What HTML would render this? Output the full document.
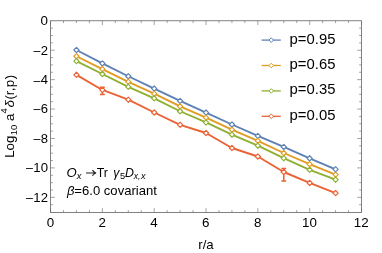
<!DOCTYPE html><html><head><meta charset="utf-8"><style>html,body{margin:0;padding:0;background:#fff}svg{display:block;will-change:transform}text{font-family:"Liberation Sans",sans-serif;fill:#000;stroke:#000;stroke-opacity:0;stroke-width:0.01}</style></head><body>
<svg width="382" height="253" viewBox="0 0 382 253">
<rect width="382" height="253" fill="#fff" stroke="none"/>
<path d="M50.55 212.45v-4.3M50.55 20.75v4.3M63.51 212.45v-2.4M63.51 20.75v2.4M76.46 212.45v-2.4M76.46 20.75v2.4M89.42 212.45v-2.4M89.42 20.75v2.4M102.38 212.45v-4.3M102.38 20.75v4.3M115.33 212.45v-2.4M115.33 20.75v2.4M128.29 212.45v-2.4M128.29 20.75v2.4M141.24 212.45v-2.4M141.24 20.75v2.4M154.20 212.45v-4.3M154.20 20.75v4.3M167.16 212.45v-2.4M167.16 20.75v2.4M180.11 212.45v-2.4M180.11 20.75v2.4M193.07 212.45v-2.4M193.07 20.75v2.4M206.02 212.45v-4.3M206.02 20.75v4.3M218.98 212.45v-2.4M218.98 20.75v2.4M231.94 212.45v-2.4M231.94 20.75v2.4M244.89 212.45v-2.4M244.89 20.75v2.4M257.85 212.45v-4.3M257.85 20.75v4.3M270.81 212.45v-2.4M270.81 20.75v2.4M283.76 212.45v-2.4M283.76 20.75v2.4M296.72 212.45v-2.4M296.72 20.75v2.4M309.68 212.45v-4.3M309.68 20.75v4.3M322.63 212.45v-2.4M322.63 20.75v2.4M335.59 212.45v-2.4M335.59 20.75v2.4M348.54 212.45v-2.4M348.54 20.75v2.4M361.50 212.45v-4.3M361.50 20.75v4.3M50.55 28.16h2.4M361.5 28.16h-2.4M50.55 35.51h2.4M361.5 35.51h-2.4M50.55 42.87h2.4M361.5 42.87h-2.4M50.55 50.22h4.3M361.5 50.22h-4.3M50.55 57.58h2.4M361.5 57.58h-2.4M50.55 64.93h2.4M361.5 64.93h-2.4M50.55 72.28h2.4M361.5 72.28h-2.4M50.55 79.64h4.3M361.5 79.64h-4.3M50.55 87.00h2.4M361.5 87.00h-2.4M50.55 94.35h2.4M361.5 94.35h-2.4M50.55 101.70h2.4M361.5 101.70h-2.4M50.55 109.06h4.3M361.5 109.06h-4.3M50.55 116.42h2.4M361.5 116.42h-2.4M50.55 123.77h2.4M361.5 123.77h-2.4M50.55 131.12h2.4M361.5 131.12h-2.4M50.55 138.48h4.3M361.5 138.48h-4.3M50.55 145.84h2.4M361.5 145.84h-2.4M50.55 153.19h2.4M361.5 153.19h-2.4M50.55 160.55h2.4M361.5 160.55h-2.4M50.55 167.90h4.3M361.5 167.90h-4.3M50.55 175.26h2.4M361.5 175.26h-2.4M50.55 182.61h2.4M361.5 182.61h-2.4M50.55 189.97h2.4M361.5 189.97h-2.4M50.55 197.32h4.3M361.5 197.32h-4.3M50.55 204.68h2.4M361.5 204.68h-2.4" stroke="#666" stroke-width="0.6" fill="none"/>
<rect x="50.55" y="20.75" width="310.95" height="191.70" fill="none" stroke="#6c6c6c" stroke-width="0.85"/>
<polyline points="76.46,50.00 102.38,63.40 128.29,76.25 154.20,88.60 180.11,100.95 206.02,112.60 231.94,124.50 257.85,135.95 283.76,146.90 309.68,158.35 335.59,169.30" fill="none" stroke="#5E81B5" stroke-width="1.9" stroke-linejoin="round"/>
<path d="M73.86 50.00L76.46 47.40L79.06 50.00L76.46 52.60Z" fill="#fff" stroke="#5E81B5" stroke-width="1.2" stroke-linejoin="round"/>
<path d="M99.78 63.40L102.38 60.80L104.97 63.40L102.38 66.00Z" fill="#fff" stroke="#5E81B5" stroke-width="1.2" stroke-linejoin="round"/>
<path d="M125.69 76.25L128.29 73.65L130.89 76.25L128.29 78.85Z" fill="#fff" stroke="#5E81B5" stroke-width="1.2" stroke-linejoin="round"/>
<path d="M151.60 88.60L154.20 86.00L156.80 88.60L154.20 91.20Z" fill="#fff" stroke="#5E81B5" stroke-width="1.2" stroke-linejoin="round"/>
<path d="M177.51 100.95L180.11 98.35L182.71 100.95L180.11 103.55Z" fill="#fff" stroke="#5E81B5" stroke-width="1.2" stroke-linejoin="round"/>
<path d="M203.42 112.60L206.02 110.00L208.62 112.60L206.02 115.20Z" fill="#fff" stroke="#5E81B5" stroke-width="1.2" stroke-linejoin="round"/>
<path d="M229.34 124.50L231.94 121.90L234.54 124.50L231.94 127.10Z" fill="#fff" stroke="#5E81B5" stroke-width="1.2" stroke-linejoin="round"/>
<path d="M255.25 135.95L257.85 133.35L260.45 135.95L257.85 138.55Z" fill="#fff" stroke="#5E81B5" stroke-width="1.2" stroke-linejoin="round"/>
<path d="M281.16 146.90L283.76 144.30L286.36 146.90L283.76 149.50Z" fill="#fff" stroke="#5E81B5" stroke-width="1.2" stroke-linejoin="round"/>
<path d="M307.07 158.35L309.68 155.75L312.28 158.35L309.68 160.95Z" fill="#fff" stroke="#5E81B5" stroke-width="1.2" stroke-linejoin="round"/>
<path d="M332.99 169.30L335.59 166.70L338.19 169.30L335.59 171.90Z" fill="#fff" stroke="#5E81B5" stroke-width="1.2" stroke-linejoin="round"/>
<polyline points="76.46,56.25 102.38,69.10 128.29,81.80 154.20,93.65 180.11,106.35 206.02,117.60 231.94,129.70 257.85,140.80 283.76,153.00 309.68,164.15 335.59,174.70" fill="none" stroke="#E19C24" stroke-width="1.9" stroke-linejoin="round"/>
<path d="M73.86 56.25L76.46 53.65L79.06 56.25L76.46 58.85Z" fill="#fff" stroke="#E19C24" stroke-width="1.2" stroke-linejoin="round"/>
<path d="M99.78 69.10L102.38 66.50L104.97 69.10L102.38 71.70Z" fill="#fff" stroke="#E19C24" stroke-width="1.2" stroke-linejoin="round"/>
<path d="M125.69 81.80L128.29 79.20L130.89 81.80L128.29 84.40Z" fill="#fff" stroke="#E19C24" stroke-width="1.2" stroke-linejoin="round"/>
<path d="M151.60 93.65L154.20 91.05L156.80 93.65L154.20 96.25Z" fill="#fff" stroke="#E19C24" stroke-width="1.2" stroke-linejoin="round"/>
<path d="M177.51 106.35L180.11 103.75L182.71 106.35L180.11 108.95Z" fill="#fff" stroke="#E19C24" stroke-width="1.2" stroke-linejoin="round"/>
<path d="M203.42 117.60L206.02 115.00L208.62 117.60L206.02 120.20Z" fill="#fff" stroke="#E19C24" stroke-width="1.2" stroke-linejoin="round"/>
<path d="M229.34 129.70L231.94 127.10L234.54 129.70L231.94 132.30Z" fill="#fff" stroke="#E19C24" stroke-width="1.2" stroke-linejoin="round"/>
<path d="M255.25 140.80L257.85 138.20L260.45 140.80L257.85 143.40Z" fill="#fff" stroke="#E19C24" stroke-width="1.2" stroke-linejoin="round"/>
<path d="M281.16 153.00L283.76 150.40L286.36 153.00L283.76 155.60Z" fill="#fff" stroke="#E19C24" stroke-width="1.2" stroke-linejoin="round"/>
<path d="M307.07 164.15L309.68 161.55L312.28 164.15L309.68 166.75Z" fill="#fff" stroke="#E19C24" stroke-width="1.2" stroke-linejoin="round"/>
<path d="M332.99 174.70L335.59 172.10L338.19 174.70L335.59 177.30Z" fill="#fff" stroke="#E19C24" stroke-width="1.2" stroke-linejoin="round"/>
<polyline points="76.46,61.10 102.38,74.00 128.29,86.80 154.20,98.35 180.11,111.25 206.02,122.45 231.94,134.70 257.85,145.65 283.76,158.20 309.68,169.80 335.59,179.70" fill="none" stroke="#8FB032" stroke-width="1.9" stroke-linejoin="round"/>
<path d="M73.86 61.10L76.46 58.50L79.06 61.10L76.46 63.70Z" fill="#fff" stroke="#8FB032" stroke-width="1.2" stroke-linejoin="round"/>
<path d="M99.78 74.00L102.38 71.40L104.97 74.00L102.38 76.60Z" fill="#fff" stroke="#8FB032" stroke-width="1.2" stroke-linejoin="round"/>
<path d="M125.69 86.80L128.29 84.20L130.89 86.80L128.29 89.40Z" fill="#fff" stroke="#8FB032" stroke-width="1.2" stroke-linejoin="round"/>
<path d="M151.60 98.35L154.20 95.75L156.80 98.35L154.20 100.95Z" fill="#fff" stroke="#8FB032" stroke-width="1.2" stroke-linejoin="round"/>
<path d="M177.51 111.25L180.11 108.65L182.71 111.25L180.11 113.85Z" fill="#fff" stroke="#8FB032" stroke-width="1.2" stroke-linejoin="round"/>
<path d="M203.42 122.45L206.02 119.85L208.62 122.45L206.02 125.05Z" fill="#fff" stroke="#8FB032" stroke-width="1.2" stroke-linejoin="round"/>
<path d="M229.34 134.70L231.94 132.10L234.54 134.70L231.94 137.30Z" fill="#fff" stroke="#8FB032" stroke-width="1.2" stroke-linejoin="round"/>
<path d="M255.25 145.65L257.85 143.05L260.45 145.65L257.85 148.25Z" fill="#fff" stroke="#8FB032" stroke-width="1.2" stroke-linejoin="round"/>
<path d="M281.16 158.20L283.76 155.60L286.36 158.20L283.76 160.80Z" fill="#fff" stroke="#8FB032" stroke-width="1.2" stroke-linejoin="round"/>
<path d="M307.07 169.80L309.68 167.20L312.28 169.80L309.68 172.40Z" fill="#fff" stroke="#8FB032" stroke-width="1.2" stroke-linejoin="round"/>
<path d="M332.99 179.70L335.59 177.10L338.19 179.70L335.59 182.30Z" fill="#fff" stroke="#8FB032" stroke-width="1.2" stroke-linejoin="round"/>
<polyline points="76.46,74.85 102.38,89.95 128.29,99.70 154.20,112.50 180.11,124.80 206.02,133.00 231.94,148.00 257.85,156.50 283.76,172.00 309.68,182.90 335.59,193.10" fill="none" stroke="#EB6235" stroke-width="1.9" stroke-linejoin="round"/>
<path d="M102.38 87.4V94.45M99.97 87.4h4.8M99.97 94.45h4.8" stroke="#EB6235" stroke-width="1.6" fill="none"/>
<path d="M283.76 168.5V181.0M281.36 168.5h4.8M281.36 181.0h4.8" stroke="#EB6235" stroke-width="1.6" fill="none"/>
<path d="M73.86 74.85L76.46 72.25L79.06 74.85L76.46 77.45Z" fill="#fff" stroke="#EB6235" stroke-width="1.2" stroke-linejoin="round"/>
<path d="M99.78 89.95L102.38 87.35L104.97 89.95L102.38 92.55Z" fill="#fff" stroke="#EB6235" stroke-width="1.2" stroke-linejoin="round"/>
<path d="M125.69 99.70L128.29 97.10L130.89 99.70L128.29 102.30Z" fill="#fff" stroke="#EB6235" stroke-width="1.2" stroke-linejoin="round"/>
<path d="M151.60 112.50L154.20 109.90L156.80 112.50L154.20 115.10Z" fill="#fff" stroke="#EB6235" stroke-width="1.2" stroke-linejoin="round"/>
<path d="M177.51 124.80L180.11 122.20L182.71 124.80L180.11 127.40Z" fill="#fff" stroke="#EB6235" stroke-width="1.2" stroke-linejoin="round"/>
<path d="M203.42 133.00L206.02 130.40L208.62 133.00L206.02 135.60Z" fill="#fff" stroke="#EB6235" stroke-width="1.2" stroke-linejoin="round"/>
<path d="M229.34 148.00L231.94 145.40L234.54 148.00L231.94 150.60Z" fill="#fff" stroke="#EB6235" stroke-width="1.2" stroke-linejoin="round"/>
<path d="M255.25 156.50L257.85 153.90L260.45 156.50L257.85 159.10Z" fill="#fff" stroke="#EB6235" stroke-width="1.2" stroke-linejoin="round"/>
<path d="M281.16 172.00L283.76 169.40L286.36 172.00L283.76 174.60Z" fill="#fff" stroke="#EB6235" stroke-width="1.2" stroke-linejoin="round"/>
<path d="M307.07 182.90L309.68 180.30L312.28 182.90L309.68 185.50Z" fill="#fff" stroke="#EB6235" stroke-width="1.2" stroke-linejoin="round"/>
<path d="M332.99 193.10L335.59 190.50L338.19 193.10L335.59 195.70Z" fill="#fff" stroke="#EB6235" stroke-width="1.2" stroke-linejoin="round"/>
<path d="M261.6 40.10H280.8" stroke="#5E81B5" stroke-width="1.3"/>
<path d="M268.95 40.10L271.25 37.80L273.55 40.10L271.25 42.40Z" fill="#fff" stroke="#5E81B5" stroke-width="1.0" stroke-linejoin="round"/>
<text x="289.6" y="43.55" font-size="15.1" textLength="45.80" lengthAdjust="spacingAndGlyphs">p=0.95</text>
<path d="M261.6 65.50H280.8" stroke="#E19C24" stroke-width="1.3"/>
<path d="M268.95 65.50L271.25 63.20L273.55 65.50L271.25 67.80Z" fill="#fff" stroke="#E19C24" stroke-width="1.0" stroke-linejoin="round"/>
<text x="289.6" y="68.95" font-size="15.1" textLength="45.80" lengthAdjust="spacingAndGlyphs">p=0.65</text>
<path d="M261.6 90.90H280.8" stroke="#8FB032" stroke-width="1.3"/>
<path d="M268.95 90.90L271.25 88.60L273.55 90.90L271.25 93.20Z" fill="#fff" stroke="#8FB032" stroke-width="1.0" stroke-linejoin="round"/>
<text x="289.6" y="94.35" font-size="15.1" textLength="45.80" lengthAdjust="spacingAndGlyphs">p=0.35</text>
<path d="M261.6 116.30H280.8" stroke="#EB6235" stroke-width="1.3"/>
<path d="M268.95 116.30L271.25 114.00L273.55 116.30L271.25 118.60Z" fill="#fff" stroke="#EB6235" stroke-width="1.0" stroke-linejoin="round"/>
<text x="289.6" y="119.75" font-size="15.1" textLength="45.80" lengthAdjust="spacingAndGlyphs">p=0.05</text>
<text x="48.0" y="25.00" font-size="13.3" text-anchor="end" textLength="7.45" lengthAdjust="spacingAndGlyphs">0</text>
<text x="48.0" y="54.92" font-size="13.3" text-anchor="end" textLength="14.51" lengthAdjust="spacingAndGlyphs"><tspan font-size="12.6" dy="0.2">–</tspan><tspan dx="0.35" dy="-0.2">2</tspan></text>
<text x="48.0" y="84.34" font-size="13.3" text-anchor="end" textLength="14.51" lengthAdjust="spacingAndGlyphs"><tspan font-size="12.6" dy="0.2">–</tspan><tspan dx="0.35" dy="-0.2">4</tspan></text>
<text x="48.0" y="113.26" font-size="13.3" text-anchor="end" textLength="14.51" lengthAdjust="spacingAndGlyphs"><tspan font-size="12.6" dy="0.2">–</tspan><tspan dx="0.35" dy="-0.2">6</tspan></text>
<text x="48.0" y="143.18" font-size="13.3" text-anchor="end" textLength="14.51" lengthAdjust="spacingAndGlyphs"><tspan font-size="12.6" dy="0.2">–</tspan><tspan dx="0.35" dy="-0.2">8</tspan></text>
<text x="48.0" y="171.90" font-size="13.3" text-anchor="end" textLength="21.94" lengthAdjust="spacingAndGlyphs"><tspan font-size="12.6" dy="0.2">–</tspan><tspan dx="0.35" dy="-0.2">10</tspan></text>
<text x="48.0" y="202.02" font-size="13.3" text-anchor="end" textLength="21.94" lengthAdjust="spacingAndGlyphs"><tspan font-size="12.6" dy="0.2">–</tspan><tspan dx="0.35" dy="-0.2">12</tspan></text>
<text x="50.35" y="227.2" font-size="13.3" text-anchor="middle" textLength="7.45" lengthAdjust="spacingAndGlyphs">0</text>
<text x="102.17" y="227.2" font-size="13.3" text-anchor="middle" textLength="7.45" lengthAdjust="spacingAndGlyphs">2</text>
<text x="154.00" y="227.2" font-size="13.3" text-anchor="middle" textLength="7.45" lengthAdjust="spacingAndGlyphs">4</text>
<text x="205.82" y="227.2" font-size="13.3" text-anchor="middle" textLength="7.45" lengthAdjust="spacingAndGlyphs">6</text>
<text x="257.65" y="227.2" font-size="13.3" text-anchor="middle" textLength="7.45" lengthAdjust="spacingAndGlyphs">8</text>
<text x="309.48" y="227.2" font-size="13.3" text-anchor="middle" textLength="14.89" lengthAdjust="spacingAndGlyphs">10</text>
<text x="361.30" y="227.2" font-size="13.3" text-anchor="middle" textLength="14.89" lengthAdjust="spacingAndGlyphs">12</text>
<text x="206" y="248.7" font-size="13.2" text-anchor="middle" textLength="15.48" lengthAdjust="spacingAndGlyphs">r/a</text>
<text transform="translate(13.80 157.85) rotate(-90)" font-size="13.2" textLength="22.28" lengthAdjust="spacingAndGlyphs">Log</text>
<text transform="translate(17.10 135.22) rotate(-90)" font-size="9.4" textLength="10.56" lengthAdjust="spacingAndGlyphs">10</text>
<text transform="translate(13.80 121.02) rotate(-90)" font-size="13.2" textLength="7.43" lengthAdjust="spacingAndGlyphs">a</text>
<text transform="translate(7.40 113.47) rotate(-90)" font-size="9.4" textLength="5.28" lengthAdjust="spacingAndGlyphs">4</text>
<text transform="translate(13.80 107.59) rotate(-90)" font-size="13.2" font-style="italic" textLength="7.42" lengthAdjust="spacingAndGlyphs">δ</text>
<text transform="translate(13.80 99.38) rotate(-90)" font-size="13.2" textLength="4.46" lengthAdjust="spacingAndGlyphs">(</text>
<text transform="translate(13.80 95.24) rotate(-90)" font-size="13.2" textLength="4.46" lengthAdjust="spacingAndGlyphs">r</text>
<text transform="translate(13.80 91.30) rotate(-90)" font-size="13.2" textLength="3.72" lengthAdjust="spacingAndGlyphs">,</text>
<text transform="translate(13.80 87.16) rotate(-90)" font-size="13.2" textLength="7.43" lengthAdjust="spacingAndGlyphs">p</text>
<text transform="translate(13.80 79.23) rotate(-90)" font-size="13.2" textLength="4.46" lengthAdjust="spacingAndGlyphs">)</text>
<text x="66.6" y="176.6" font-size="13" textLength="14.87" lengthAdjust="spacingAndGlyphs"><tspan font-style="italic">O</tspan><tspan font-style="italic" font-size="9.3" dy="2.1">x</tspan></text>
<path d="M86 172.9H95.4M92.4 170.1Q93.6 171.9 95.8 172.9Q93.6 173.9 92.4 175.7" fill="none" stroke="#222" stroke-width="1.05" stroke-linecap="butt" stroke-linejoin="round"/>
<text x="96.75" y="176.6" font-size="13" textLength="48.85" lengthAdjust="spacingAndGlyphs">Tr <tspan font-style="italic" dx="2.0">γ</tspan><tspan font-size="9.8" dy="2.0" dx="0.7">5</tspan><tspan font-style="italic" dy="-2.0" dx="-0.35">D</tspan><tspan font-style="italic" font-size="9.0" dy="2.0" dx="-0.15">x,<tspan dx="0.7" font-size="9.6">x</tspan></tspan></text>
<text x="66.9" y="194.95" font-size="13" textLength="90.01" lengthAdjust="spacingAndGlyphs"><tspan font-style="italic">β</tspan>=6.0 covariant</text>
</svg></body></html>
